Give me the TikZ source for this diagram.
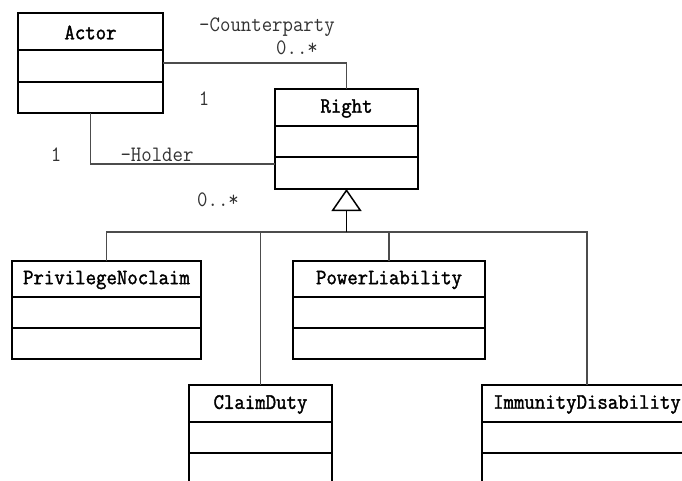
\documentclass[tikz,border=0pt]{standalone}
\usepackage{fontspec}
\usetikzlibrary{arrows.meta,calc}
\newfontfamily\reffont{Latin Modern Mono}[FakeStretch=0.92]
\newfontfamily\refboldfont{Latin Modern Mono}[FakeStretch=0.92, FakeBold=1.6]
\newcommand\umlcls[8]{%
  \node[clsbox, anchor=north west, minimum width={(#4-#2)*1pt}, minimum height={(#7-#3)*1pt}] (#1) at (#2,#3) {};
  \draw[clsline] (#2,#5) -- (#4,#5);
  \draw[clsline] (#2,#6) -- (#4,#6);
  \node[clsname] (#1-name) at ({(#2+#4)/2},{(#3+#5)/2+1}) {#8};
}
\begin{document}
\begin{tikzpicture}[x=1pt,y=-1pt,
  clsbox/.style={draw=black, line width=1.6pt, inner sep=0pt, outer sep=0pt, fill=white},
  clsline/.style={draw=black, line width=1.6pt},
  clsname/.style={font=\fontsize{22}{24}\refboldfont, text=black, inner sep=0pt},
  lbl/.style={font=\fontsize{22}{24}\reffont, text=black!80, inner sep=0pt},
  conn/.style={draw=black!70, line width=1.2pt},
  gen/.style={draw=black, line width=1.5pt, -{Triangle[open, length=22pt, width=30pt, line width=1.5pt]}}
]
\useasboundingbox (0,0) rectangle (682,480);
\clip (0,0) rectangle (682,480);
\fill[white] (0,0) rectangle (682,480);

\umlcls{actor}{18}{13}{163}{50}{82}{113}{Actor}
\umlcls{right}{275}{89}{418}{126}{157}{189}{Right}
\umlcls{priv}{12}{261}{201}{297}{328}{359}{PrivilegeNoclaim}
\umlcls{power}{293}{261}{485}{297}{328}{359}{PowerLiability}
\umlcls{claim}{189}{385}{332}{422}{453}{490}{ClaimDuty}
\umlcls{immune}{482}{385}{692}{422}{453}{490}{ImmunityDisability}

% associations
\draw[conn] (actor.east) -| (right.north);
\draw[conn] (actor.south) |- (right.west |- 0,164);

\node[lbl] (cp) at (267,27.5) {-Counterparty};
\node[lbl] (cpm) at (297,47.5) {0..*};
\node[lbl] (cpo) at (204,99) {1};
\node[lbl] (ho) at (56,155) {1};
\node[lbl] (hn) at (157,155) {-Holder};
\node[lbl] (hm) at (218,200) {0..*};

% generalization
\coordinate (bus) at (right.south |- 0,232);
\draw[conn] (priv.north) |- (bus);
\draw[conn] (claim.north) |- (bus);
\draw[conn] (power.north) |- (bus);
\draw[conn] (immune.north) |- (bus);
\draw[gen] (bus) -- (right.south);
\end{tikzpicture}
\end{document}
